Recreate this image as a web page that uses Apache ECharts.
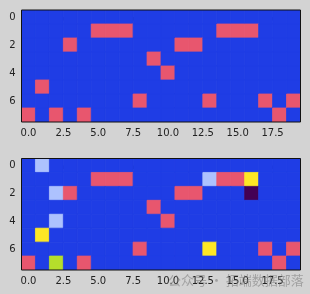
<!DOCTYPE html>
<html>
<head>
<meta charset="utf-8">
<script src="https://cdn.jsdelivr.net/npm/echarts@6/dist/echarts.min.js"></script>
<style>
  html, body { margin: 0; padding: 0; background: #d3d3d3; }
  #chart { width: 310px; height: 294px; }
</style>
</head>
<body>
<div id="chart"></div>
<script>
// 8 rows x 20 cols, 0 = background
var cols = 20, rows = 8;
var xTicks = [0, 2.5, 5, 7.5, 10, 12.5, 15, 17.5];
var yTicks = [0, 2, 4, 6];
var palette = ['#1f3de5', '#e8566e', '#adc2fe', '#fde725', '#440154', '#b5de2b'];

// [row, col, class] cells that are not background
var topCells = [
  [1, 5, 1], [1, 6, 1], [1, 7, 1], [1, 14, 1], [1, 15, 1], [1, 16, 1],
  [2, 3, 1], [2, 11, 1], [2, 12, 1],
  [3, 9, 1],
  [4, 10, 1],
  [5, 1, 1],
  [6, 8, 1], [6, 13, 1], [6, 17, 1], [6, 19, 1],
  [7, 0, 1], [7, 2, 1], [7, 4, 1], [7, 18, 1]
];
var bottomCells = [
  [0, 1, 2],
  [1, 5, 1], [1, 6, 1], [1, 7, 1], [1, 13, 2], [1, 14, 1], [1, 15, 1], [1, 16, 3],
  [2, 2, 2], [2, 3, 1], [2, 11, 1], [2, 12, 1], [2, 16, 4],
  [3, 9, 1],
  [4, 2, 2], [4, 10, 1],
  [5, 1, 3],
  [6, 8, 1], [6, 13, 3], [6, 17, 1], [6, 19, 1],
  [7, 0, 1], [7, 2, 5], [7, 4, 1], [7, 18, 1]
];

function fullGrid(cells) {
  var m = {};
  cells.forEach(function (c) { m[c[0] + '_' + c[1]] = c[2]; });
  var out = [];
  for (var r = 0; r < rows; r++) {
    for (var c = 0; c < cols; c++) {
      out.push([c, r, m[r + '_' + c] || 0]);
    }
  }
  return out;
}

function renderCell(params, api) {
  var p = api.coord([api.value(0) - 0.5, api.value(1) - 0.5]);
  var s = api.size([1, 1]);
  var col = palette[api.value(2)];
  return {
    type: 'rect',
    shape: { x: p[0], y: p[1], width: s[0], height: s[1] },
    style: { fill: col, stroke: col, lineWidth: 0.8 }
  };
}

function xAxisOf(i) {
  return {
    type: 'value', gridIndex: i, min: -0.5, max: 19.5,
    axisLine: { show: false },
    splitLine: { show: false },
    axisTick: { show: true, length: 3.5, customValues: xTicks, lineStyle: { color: '#000' } },
    axisLabel: {
      customValues: xTicks, margin: 6, color: '#222', fontSize: 10,
      fontFamily: 'DejaVu Sans',
      formatter: function (v) { return v.toFixed(1); }
    }
  };
}
function yAxisOf(i) {
  return {
    type: 'value', gridIndex: i, min: -0.5, max: 7.5, inverse: true,
    axisLine: { show: false },
    splitLine: { show: false },
    axisTick: { show: true, length: 3.5, customValues: yTicks, lineStyle: { color: '#000' } },
    axisLabel: {
      customValues: yTicks, margin: 6, color: '#222', fontSize: 10,
      fontFamily: 'DejaVu Sans'
    }
  };
}

var chart = echarts.init(document.getElementById('chart'));
chart.setOption({
  backgroundColor: '#d3d3d3',
  animation: false,
  grid: [
    { left: 21.5, top: 10, width: 279, height: 112, show: true, borderColor: '#111', borderWidth: 1, backgroundColor: 'transparent', z: 5 },
    { left: 21.5, top: 158.5, width: 279, height: 111.5, show: true, borderColor: '#111', borderWidth: 1, backgroundColor: 'transparent', z: 5 }
  ],
  xAxis: [xAxisOf(0), xAxisOf(1)],
  yAxis: [yAxisOf(0), yAxisOf(1)],
  series: [
    { type: 'custom', xAxisIndex: 0, yAxisIndex: 0, renderItem: renderCell, data: fullGrid(topCells), clip: true },
    { type: 'custom', xAxisIndex: 1, yAxisIndex: 1, renderItem: renderCell, data: fullGrid(bottomCells), clip: true }
  ],
  graphic: [
    {
      type: 'text', left: 168, top: 274, z: 100,
      style: { text: '公众号 · 拓端数据部落', fill: 'rgba(120,120,120,0.55)', fontSize: 13, fontFamily: 'Noto Sans CJK SC' }
    }
  ]
});
</script>
</body>
</html>
